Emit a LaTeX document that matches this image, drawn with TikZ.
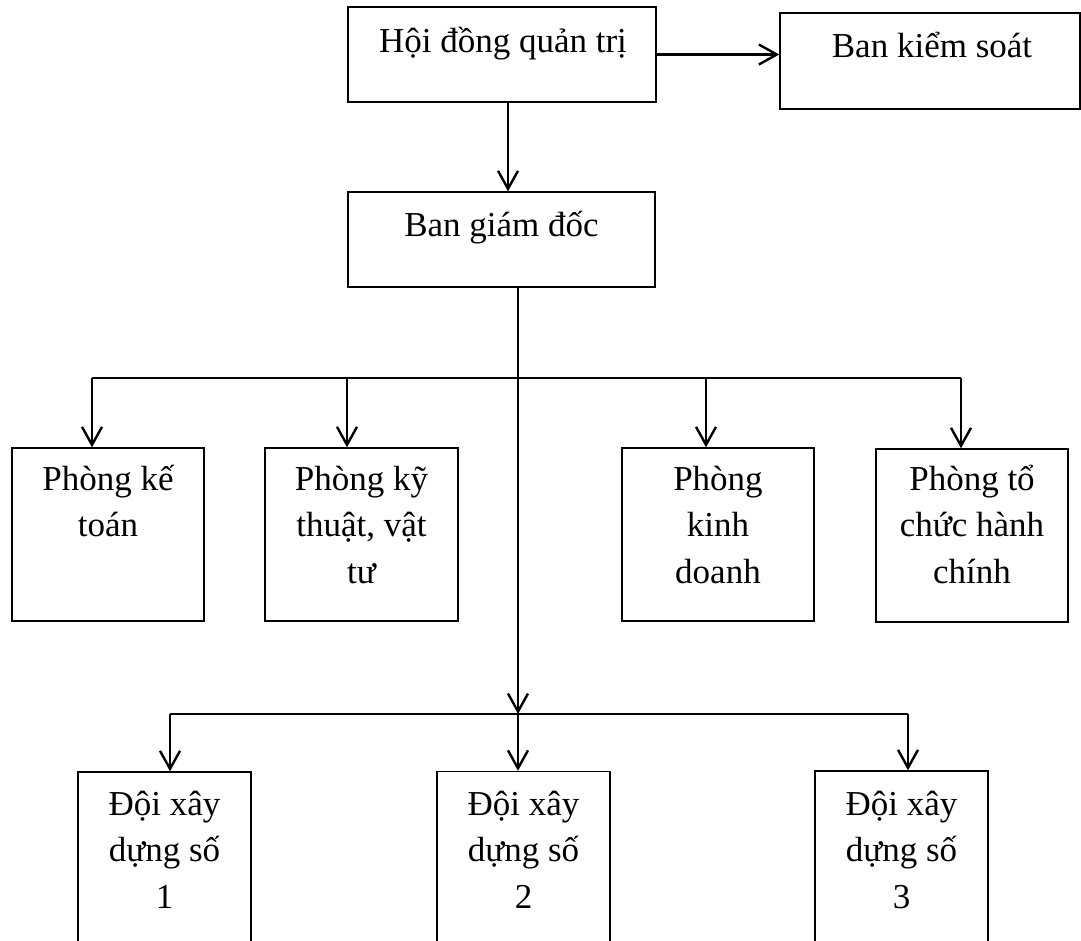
\documentclass[tikz,border=0pt]{standalone}
\usepackage{fontspec}
\setmainfont{Liberation Serif}
\usetikzlibrary{arrows.meta}
% fixed-height strut so every label's top sits 18pt above its first baseline
\newcommand{\labtop}{\rule{0pt}{18pt}}
\begin{document}
\begin{tikzpicture}[x=0.5pt,y=-0.5pt,
  box/.style={draw, line width=0.7pt, inner sep=0pt},
  lbl/.style={inner sep=0pt, align=center, anchor=north,
              font=\fontsize{17.5}{23.2}\selectfont},
  bus/.style={line width=0.8pt},
  link/.style={line width=1.2pt, -{Straight Barb[length=9pt,width=10pt]}},
]
\useasboundingbox (0,0) rectangle (1081,941);
\clip (0,0) rectangle (1081,941);

% top level
\node[box, minimum width=154pt, minimum height=47.5pt] (hdqt) at (502,54.5) {};
\node[lbl] (hdqtT) at (503,16) {\labtop Hội đồng quản trị};
\node[box, minimum width=150pt, minimum height=48pt] (bks) at (930,61) {};
\node[lbl] (bksT) at (932,21) {\labtop Ban kiểm soát};
\node[box, minimum width=153.5pt, minimum height=47.5pt] (bgd) at (501.5,239.5) {};
\node[lbl] (bgdT) at (501.5,200) {\labtop Ban giám đốc};

% departments
\node[box, minimum width=96pt, minimum height=86.5pt] (pkt) at (108,534.5) {};
\node[lbl] (pktT) at (108,454) {\labtop Phòng kế\\toán};
\node[box, minimum width=96.5pt, minimum height=86.5pt] (pkytt) at (361.5,534.5) {};
\node[lbl] (pkyttT) at (361.5,454) {\labtop Phòng kỹ\\thuật, vật\\tư};
\node[box, minimum width=96pt, minimum height=86.5pt] (pkd) at (718,534.5) {};
\node[lbl] (pkdT) at (718,454) {\labtop Phòng\\kinh\\doanh};
\node[box, minimum width=96pt, minimum height=86.5pt] (ptc) at (972,535.5) {};
\node[lbl] (ptcT) at (972,454) {\labtop Phòng tổ\\chức hành\\chính};

% construction teams
\node[box, minimum width=86.5pt, minimum height=114pt] (d1) at (164.5,886) {};
\node[lbl] (d1T) at (164.5,779) {\labtop Đội xây\\dựng số\\1};
\node[box, minimum width=86.5pt, minimum height=114pt] (d2) at (523.5,885.5) {};
\node[lbl] (d2T) at (523.5,779) {\labtop Đội xây\\dựng số\\2};
\node[box, minimum width=86.5pt, minimum height=114pt] (d3) at (901.5,885) {};
\node[lbl] (d3T) at (901.5,779) {\labtop Đội xây\\dựng số\\3};

% bus levels
\coordinate (busA) at (0,378);
\coordinate (busB) at (0,714);

% connectors
\draw[link] (hdqt.east) -- (hdqt.east -| bks.west);
\draw[link] ([xshift=3pt]hdqt.south) -- ([xshift=3pt]hdqt.south |- bgd.north);

\draw[bus] ([xshift=-8pt]pkt.north |- busA) -- ([xshift=-5.5pt]ptc.north |- busA);
\draw[link] ([xshift=-8pt]pkt.north |- busA) -- ([xshift=-8pt]pkt.north);
\draw[link] ([xshift=-7.25pt]pkytt.north |- busA) -- ([xshift=-7.25pt]pkytt.north);
\draw[link] ([xshift=-6pt]pkd.north |- busA) -- ([xshift=-6pt]pkd.north);
\draw[link] ([xshift=-5.5pt]ptc.north |- busA) -- ([xshift=-5.5pt]ptc.north);

\draw[link] ([xshift=8.25pt]bgd.south) -- ([xshift=8.25pt]bgd.south |- busB);

\draw[bus] ([xshift=2.75pt]d1.north |- busB) -- ([xshift=3.25pt]d3.north |- busB);
\draw[link] ([xshift=2.75pt]d1.north |- busB) -- ([xshift=2.75pt]d1.north);
\draw[link] ([xshift=-2.75pt]d2.north |- busB) -- ([xshift=-2.75pt]d2.north);
\draw[link] ([xshift=3.25pt]d3.north |- busB) -- ([xshift=3.25pt]d3.north);
\end{tikzpicture}
\end{document}
